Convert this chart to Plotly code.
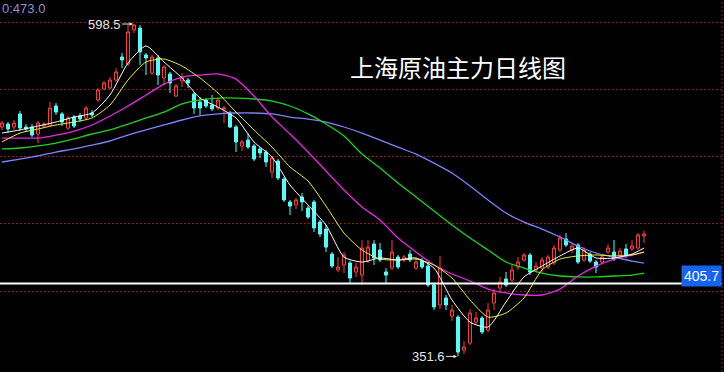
import plotly.graph_objects as go

# ---------------- data ----------------
days = list(range(108))

opens = [
    522.0, 524.2, 522.0, 531.7, 522.0, 522.0, 516.8, 522.7, 523.5, 537.6,
    531.7, 521.2, 529.4, 530.2, 528.7, 532.4, 542.1, 550.2, 551.0, 556.9,
    574.0, 568.8, 594.1, 595.5, 575.5, 562.1, 573.3, 558.4, 561.4, 545.0,
    556.2, 556.9, 546.5, 540.6, 542.1, 538.3, 536.1, 535.4, 532.4, 522.0,
    507.9, 512.3, 507.9, 505.7, 503.4, 488.6, 496.7, 483.4, 466.3, 464.1,
    470.0, 461.8, 466.3, 451.4, 446.2, 427.6, 415.8, 419.5, 421.0, 414.3,
    412.0, 422.4, 435.1, 430.6, 414.3, 417.2, 425.4, 423.2, 427.6, 417.2,
    422.4, 418.7, 404.6, 389.8, 395.0, 381.6, 380.8, 356.3, 361.5, 377.1,
    380.1, 371.2, 391.2, 402.4, 409.1, 408.3, 418.0, 423.2, 426.9, 415.8,
    417.2, 418.0, 421.0, 430.6, 438.8, 430.6, 434.3, 423.2, 427.6, 421.7,
    421.7, 429.1, 429.1, 426.9, 431.4, 431.4, 432.1, 441.0]

highs = [
    526.4, 525.7, 527.2, 533.9, 524.2, 524.2, 526.4, 525.7, 540.6, 539.8,
    533.1, 530.2, 530.9, 532.4, 537.6, 534.6, 551.0, 556.2, 559.1, 565.8,
    577.0, 597.8, 598.5, 597.8, 577.0, 575.5, 575.5, 568.1, 562.9, 553.9,
    562.1, 558.4, 548.0, 544.3, 543.5, 545.8, 543.5, 537.6, 533.9, 523.5,
    512.3, 517.5, 509.4, 507.1, 504.9, 500.5, 498.2, 484.9, 467.8, 469.3,
    473.0, 463.3, 467.8, 452.9, 449.2, 429.1, 425.4, 429.1, 422.4, 421.0,
    438.0, 438.0, 438.0, 435.8, 417.2, 438.0, 426.9, 426.9, 430.6, 424.7,
    424.7, 421.7, 406.1, 426.2, 397.2, 389.8, 382.3, 363.0, 386.8, 384.6,
    381.6, 391.2, 401.6, 410.6, 414.3, 419.5, 425.4, 428.4, 428.4, 421.7,
    425.4, 426.9, 434.3, 441.8, 443.2, 435.1, 435.8, 432.8, 429.1, 423.2,
    426.9, 435.1, 438.0, 432.1, 435.1, 438.0, 443.2, 445.0]

lows = [
    519.8, 517.5, 519.8, 519.0, 518.3, 514.6, 510.1, 521.2, 522.0, 530.9,
    522.7, 519.8, 521.2, 525.7, 527.2, 529.4, 540.6, 549.5, 550.2, 555.4,
    565.8, 567.3, 591.8, 568.1, 560.6, 560.6, 553.2, 553.2, 547.2, 544.3,
    551.7, 551.0, 531.7, 530.9, 536.1, 533.9, 534.6, 525.0, 521.2, 503.4,
    504.2, 505.7, 496.7, 499.0, 492.3, 484.1, 482.6, 466.3, 456.6, 461.1,
    459.6, 453.6, 444.0, 440.3, 429.1, 417.2, 414.3, 413.5, 406.1, 410.6,
    404.6, 421.0, 419.5, 421.7, 406.1, 415.8, 416.5, 421.7, 421.7, 415.8,
    416.5, 403.1, 386.0, 386.8, 386.0, 377.9, 351.6, 353.4, 360.0, 374.9,
    368.2, 369.7, 386.0, 398.7, 403.1, 406.8, 415.8, 421.7, 412.0, 414.3,
    414.3, 416.5, 419.5, 429.1, 432.8, 428.4, 420.2, 421.7, 421.0, 413.5,
    420.2, 427.6, 422.4, 425.4, 424.7, 429.9, 430.6, 435.8]

closes = [
    525.0, 520.5, 525.0, 521.2, 520.5, 516.0, 525.0, 524.2, 536.1, 533.1,
    525.7, 528.7, 522.7, 527.9, 536.1, 530.9, 549.5, 554.7, 556.9, 562.9,
    571.8, 592.6, 597.8, 577.7, 573.3, 574.0, 560.6, 566.6, 554.7, 552.5,
    559.1, 554.7, 536.1, 536.1, 537.6, 535.4, 542.1, 536.1, 522.0, 510.9,
    510.9, 507.1, 498.2, 502.7, 496.0, 499.0, 484.1, 467.8, 463.3, 467.8,
    466.3, 455.1, 447.0, 442.5, 432.8, 418.7, 418.0, 426.9, 409.8, 418.0,
    432.1, 432.8, 424.7, 423.2, 412.0, 429.1, 418.0, 425.4, 423.2, 421.7,
    418.0, 404.6, 388.3, 417.2, 389.8, 386.0, 354.8, 358.6, 383.8, 380.1,
    369.7, 386.0, 398.7, 406.8, 404.6, 415.8, 421.7, 426.9, 414.3, 418.7,
    423.2, 425.4, 432.1, 439.5, 434.3, 433.6, 421.7, 430.6, 422.4, 418.0,
    425.4, 432.1, 423.9, 429.9, 426.9, 433.6, 441.8, 442.5]

# moving-average lines, read every third session
ma_days = list(range(0, 106, 3)) + [107]

ma5 = [517.5, 519.8, 522.7, 525.7, 529.4, 532.4, 545.8, 569.5, 582.2, 570.3,
       558.4, 543.5, 536.8, 528.7, 510.9, 499.7, 478.9, 464.1, 449.2, 425.4,
       421.7, 424.7, 423.2, 424.7, 417.2, 393.5, 377.1, 373.4, 392.0, 410.6,
       418.7, 426.2, 432.1, 424.7, 424.7, 427.6, 432.1]

ma10 = [510.9, 517.5, 520.5, 523.5, 525.7, 528.7, 538.3, 556.9, 570.3, 572.5,
        567.3, 558.4, 547.2, 533.1, 519.8, 507.1, 492.3, 481.9, 463.3, 443.2,
        430.6, 423.9, 423.2, 423.9, 419.5, 409.8, 393.5, 380.8, 383.8, 395.0,
        415.8, 423.9, 426.2, 426.9, 426.2, 426.9, 429.1]

ma20 = [513.8, 513.8, 513.8, 516.0, 519.0, 523.5, 530.2, 537.6, 545.8, 553.9,
        559.1, 560.6, 561.4, 557.6, 545.0, 529.4, 516.8, 503.4, 489.3, 475.2,
        462.6, 452.9, 439.5, 429.1, 419.5, 412.8, 407.6, 401.6, 398.7, 397.2,
        397.2, 401.6, 411.3, 418.7, 423.9, 426.9, 429.1]

ma40 = [505.7, 506.4, 507.9, 510.1, 513.1, 516.8, 519.8, 524.2, 528.7, 533.1,
        539.1, 542.1, 543.5, 543.5, 542.8, 541.3, 537.6, 531.7, 524.2, 515.3,
        501.9, 491.5, 480.4, 470.0, 459.6, 449.2, 439.5, 430.6, 421.7, 417.2,
        413.5, 411.3, 410.6, 410.6, 411.3, 412.0, 413.5]

ma60 = [496.0, 498.2, 500.5, 503.4, 505.7, 508.6, 511.6, 516.0, 519.8, 523.5,
        527.2, 530.2, 531.7, 532.4, 532.4, 531.7, 529.4, 527.9, 525.7, 522.0,
        517.5, 512.3, 507.1, 501.9, 495.2, 487.8, 478.2, 467.8, 458.1, 451.4,
        446.2, 440.3, 433.6, 428.4, 425.4, 422.4, 420.9]

grid_levels = [400, 450, 500, 550, 600]
max_label = 598.5
min_label = 351.6
prev_label = "0:473.0"
price_line = 405.7
title_text = "上海原油主力日线图"

# ---------------- styling ----------------
UP = "#ff3c3c"
DN = "#54fcfc"
GRID = "#8c1e1e"
LABEL = "#e6e6e6"

fig = go.Figure()
fig.add_trace(go.Candlestick(
    x=days, open=opens, high=highs, low=lows, close=closes,
    increasing=dict(line=dict(color=UP, width=1), fillcolor="#000000"),
    decreasing=dict(line=dict(color=DN, width=1), fillcolor=DN),
    whiskerwidth=0, hoverinfo="skip", showlegend=False))

for vals, col, w in [(ma60, "#8080ff", 1.3), (ma40, "#1ed21e", 1.3),
                     (ma20, "#e628e6", 1.3), (ma10, "#f0f03c", 1.0),
                     (ma5, "#ffffff", 1.0)]:
    fig.add_trace(go.Scatter(x=ma_days, y=vals, mode="lines",
                             line=dict(color=col, width=w, shape="spline", smoothing=0.6),
                             hoverinfo="skip", showlegend=False))

fig.update_layout(
    width=724, height=372,
    margin=dict(l=0, r=0, t=0, b=0),
    paper_bgcolor="#000000", plot_bgcolor="#000000",
    showlegend=False,
    boxgap=0.28,
    xaxis=dict(range=[-0.333, 120.333], visible=False,
               rangeslider=dict(visible=False), fixedrange=True),
    yaxis=dict(range=[340.0, 616.34], showticklabels=False, ticks="",
               tickvals=grid_levels, showgrid=True, gridcolor=GRID,
               griddash="2px,2px", gridwidth=1, zeroline=False,
               showline=False, fixedrange=True),
    shapes=[
        dict(type="line", xref="paper", yref="y", x0=0, x1=0.997,
             y0=price_line, y1=price_line, line=dict(color="#ffffff", width=2)),
        dict(type="line", xref="paper", yref="paper", x0=0.9972, x1=0.9972,
             y0=0, y1=1, line=dict(color=GRID, width=1, dash="2px,2px")),
    ],
    annotations=[
        dict(text=title_text, xref="paper", yref="paper", x=458 / 724,
             y=1 - 66 / 372, xanchor="center", yanchor="middle",
             showarrow=False,
             font=dict(family="Noto Sans CJK SC", size=24, color="#ffffff")),
        dict(text=f"{max_label}", xref="x", yref="y", x=22, y=max_label,
             showarrow=True, ax=-30, ay=0, axref="pixel", ayref="pixel",
             arrowhead=2, arrowsize=0.7, arrowwidth=1, arrowcolor=LABEL,
             standoff=1,
             font=dict(family="Liberation Sans, Arial", size=13, color=LABEL)),
        dict(text=f"{min_label}", xref="x", yref="y", x=76, y=min_label,
             showarrow=True, ax=-30, ay=0, axref="pixel", ayref="pixel",
             arrowhead=2, arrowsize=0.7, arrowwidth=1, arrowcolor=LABEL,
             standoff=1,
             font=dict(family="Liberation Sans, Arial", size=13, color=LABEL)),
        dict(text=prev_label, xref="paper", yref="paper", x=0, y=1 - 9 / 372,
             xanchor="left", yanchor="middle", showarrow=False,
             font=dict(family="Liberation Sans, Arial", size=13, color="#8a92d8")),
        dict(text=f"{price_line}", xref="paper", yref="paper", x=722 / 724,
             y=1 - 276 / 372, xanchor="right", yanchor="middle",
             showarrow=False, bgcolor="#1464f0", borderpad=2,
             font=dict(family="Liberation Sans, Arial", size=14, color="#ffffff")),
    ],
)

fig.write_html(
    "out.html",
    config={"displayModeBar": False, "staticPlot": True},
    post_script="document.body.style.margin='0';document.body.style.padding='0';"
                "document.body.style.overflow='hidden';"
                "document.body.style.background='#000';",
)
